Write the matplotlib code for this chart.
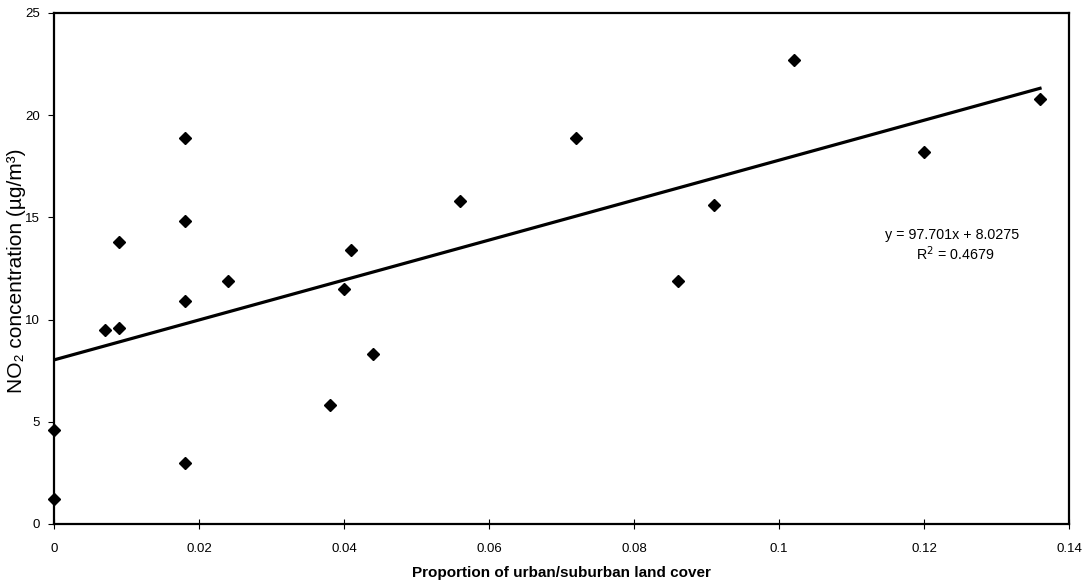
import numpy as np
import matplotlib
matplotlib.use("Agg")
import matplotlib.pyplot as plt

plt.rcParams['font.family'] = ['Liberation Sans', 'DejaVu Sans']

# proportion urbaine/périurbaine et NO2 mesuré
urban = [0, 0, 0.007, 0.009, 0.009, 0.018, 0.018, 0.018, 0.018, 0.024,
         0.038, 0.040, 0.041, 0.044, 0.056, 0.072, 0.086, 0.091, 0.102,
         0.120, 0.136]
no2 = [1.2, 4.6, 9.5, 9.6, 13.8, 18.9, 14.8, 10.9, 3.0, 11.9,
       5.8, 11.5, 13.4, 8.3, 15.8, 18.9, 11.9, 15.6, 22.7,
       18.2, 20.8]

# droite de tendance (valeurs du tableur)
slope = 97.701
intercept = 8.0275
r2 = 0.4679

xticks = [0, 0.02, 0.04, 0.06, 0.08, 0.1, 0.12, 0.14]
yticks = [0, 5, 10, 15, 20, 25]

fig = plt.figure(figsize=(10.83, 5.82), dpi=100)
ax = fig.add_axes([0.0499, 0.0997, 0.9372, 0.878])

xfit = np.array([0, max(urban)])
ax.plot(xfit, slope * xfit + intercept, color='black', lw=2.3, zorder=2)
ax.plot(urban, no2, 'D', color='black', ms=6.3, zorder=3, clip_on=False)

ax.set_xlim(0, 0.14)
ax.set_ylim(0, 25)
ax.set_xticks(xticks)
ax.set_xticklabels([f"{v:g}" for v in xticks])
ax.set_yticks(yticks)
ax.set_yticklabels([str(v) for v in yticks])
ax.tick_params(axis='x', direction='inout', length=7, width=0.8,
               labelsize=9.5, pad=10)
ax.tick_params(axis='y', direction='out', length=4, width=0.8,
               labelsize=9.5, pad=6)
for s in ax.spines.values():
    s.set_linewidth(1.6)
    s.set_color('black')

ax.set_xlabel("Proportion of urban/suburban land cover", fontsize=11,
              fontweight='bold', labelpad=8)
ax.set_ylabel("NO₂ concentration (µg/m³)", fontsize=15,
              fontweight='medium')
ax.yaxis.set_label_coords(-0.028, 0.495)

ax.text(0.1239, 14.14, f"y = {slope}x + {intercept}", ha='center',
        va='center', fontsize=10.3)
ax.text(0.1243, 13.2, f"R$^2$ = {r2}", ha='center', va='center',
        fontsize=10.3)

fig.savefig("out.png", dpi=100)
